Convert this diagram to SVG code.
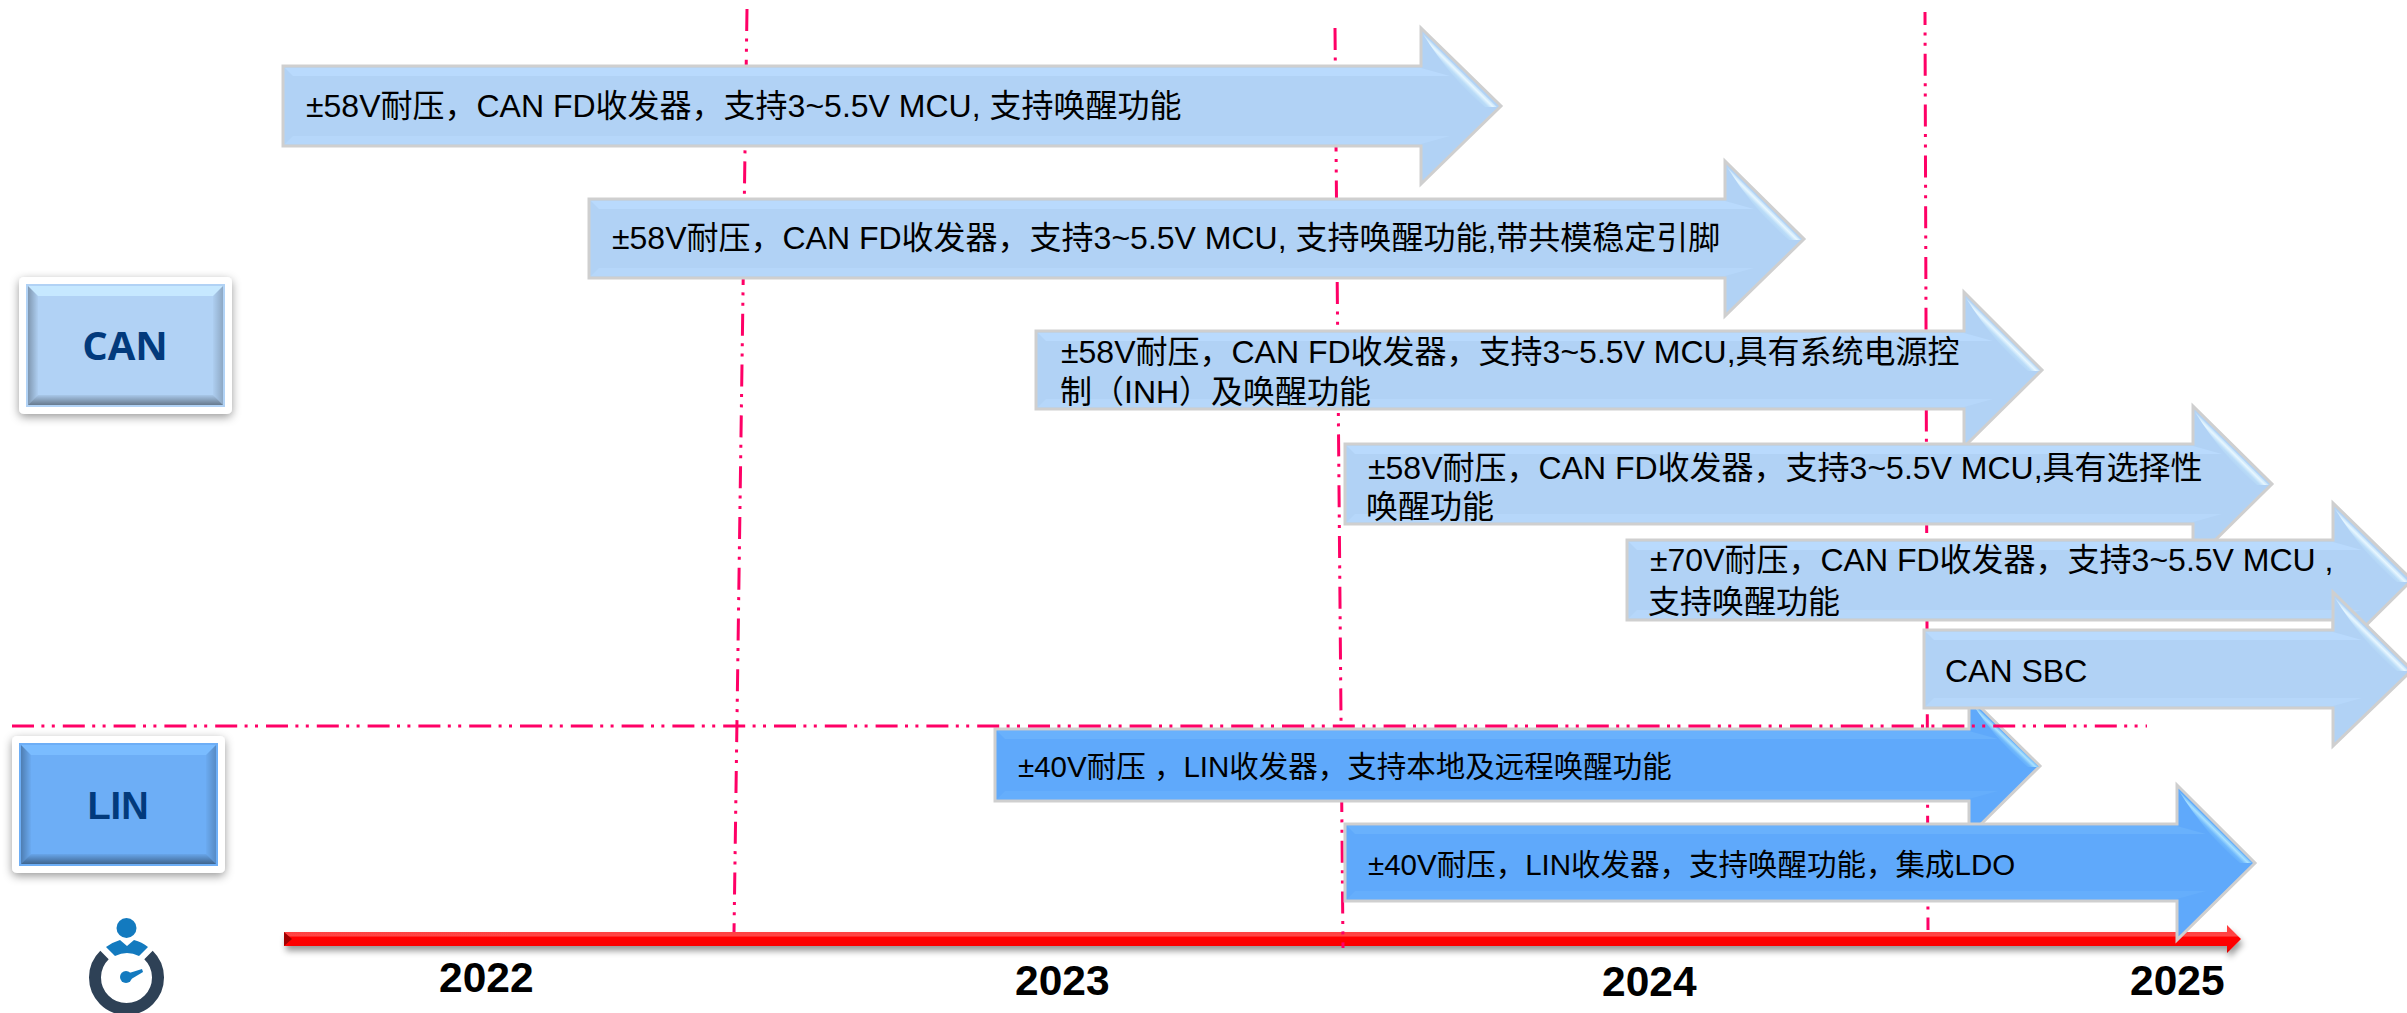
<svg xmlns="http://www.w3.org/2000/svg" width="2407" height="1013" viewBox="0 0 2407 1013">
<style>
.arrL{fill:#B1D2F5;stroke:#CFCFCF;stroke-width:3}
.arrD{fill:#5FA9FB;stroke:#CFCFCF;stroke-width:3}
.bandL{fill:#B9DAFD}
.bandD{fill:#69B1FC}
.lowL{fill:#B6D7FA}
.lowD{fill:#65AEFC}
.t{font-family:"Liberation Sans","Noto Sans CJK SC",Arial,sans-serif;font-size:32px;fill:#000}
.s{font-size:29.500px}
.y{font-family:"Liberation Sans",Arial,sans-serif;font-size:42.500px;font-weight:700;fill:#000}
.dash{fill:none;stroke:#FF0066;stroke-width:3;stroke-dasharray:22 7.400 3 7.400 3 8}
.lab{font-size:40px;font-weight:700;fill:#023A7C;text-anchor:middle}
</style>
<defs>
<linearGradient id="hlL" x1="0.4" y1="0.6" x2="0.5" y2="0.5"><stop offset="0" stop-color="#B1D2F5"/><stop offset="0.4" stop-color="#BADCF8"/><stop offset="0.75" stop-color="#E8F7FF"/><stop offset="1" stop-color="#C4E2FA"/></linearGradient>
<linearGradient id="hlD" x1="0.4" y1="0.6" x2="0.5" y2="0.5"><stop offset="0" stop-color="#5FA9FB"/><stop offset="0.4" stop-color="#6FB8FC"/><stop offset="0.75" stop-color="#ABE2FF"/><stop offset="1" stop-color="#78C0FB"/></linearGradient>
<path id="hiL" fill="url(#hlL)" d="M2 6L76 79L64 79Q30 51 2 6Z"/>
<path id="hiD" fill="url(#hlD)" d="M2 6L70 71L59 71Q28 46 2 6Z"/>
<path id="hiD2" fill="url(#hlD)" d="M2 6L75 78L63 78Q30 51 2 6Z"/>
<linearGradient id="red" x1="0" y1="0" x2="0" y2="1"><stop offset="0" stop-color="#FF3A3A"/><stop offset="0.38" stop-color="#FF4545"/><stop offset="0.45" stop-color="#FF0000"/><stop offset="0.85" stop-color="#FA0000"/><stop offset="1" stop-color="#C80000"/></linearGradient>
<linearGradient id="gT" x1="0" y1="0" x2="0" y2="1"><stop offset="0" stop-color="#fff" stop-opacity="0.35"/><stop offset="1" stop-color="#fff" stop-opacity="0.05"/></linearGradient>
<linearGradient id="gB" x1="0" y1="1" x2="0" y2="0"><stop offset="0" stop-color="#000" stop-opacity="0.42"/><stop offset="1" stop-color="#000" stop-opacity="0.05"/></linearGradient>
<linearGradient id="gL" x1="0" y1="0" x2="1" y2="0"><stop offset="0" stop-color="#000" stop-opacity="0.28"/><stop offset="1" stop-color="#000" stop-opacity="0.02"/></linearGradient>
<linearGradient id="gR" x1="1" y1="0" x2="0" y2="0"><stop offset="0" stop-color="#000" stop-opacity="0.2"/><stop offset="1" stop-color="#000" stop-opacity="0.02"/></linearGradient>
<filter id="sh" x="-20%" y="-20%" width="140%" height="140%"><feDropShadow dx="0" dy="3" stdDeviation="5" flood-color="#000" flood-opacity="0.4"/></filter>
<filter id="shr" x="-2%" y="-100%" width="104%" height="400%"><feDropShadow dx="2" dy="5" stdDeviation="3" flood-color="#000" flood-opacity="0.4"/></filter>
</defs>
<rect width="2407" height="1013" fill="#fff"/>
<g id="timeline">
<polygon points="284,932 2227,932 2227,925 2241,939 2227,953 2227,946 284,946" fill="url(#red)" filter="url(#shr)"/>
<polygon points="284,932 292,939 284,946" fill="#A00000"/>
</g>
<g id="connectors">
<path class="dash" d="M747 9L734 932"/>
<path class="dash" d="M1335 28L1343 948"/>
<path class="dash" stroke-dashoffset="9" d="M1925 12L1928 930"/>
</g>
<g id="arrow-can-1">
<polygon class="arrL" points="283,66 1421,66 1421,28 1501,106 1421,184 1421,146 283,146"/>
<polygon class="lowL" points="285,144 1421,144 1450,136 293,136"/>
<polygon class="bandL" points="285,68 1421,68 1450,76 293,76"/>
<use href="#hiL" x="1421" y="28"/>
<text class="t" x="306" y="117">±58V耐压，CAN FD收发器，支持3~5.5V MCU, 支持唤醒功能</text>
</g>
<g id="arrow-can-2">
<polygon class="arrL" points="589,199 1725,199 1725,161 1804,239 1725,316 1725,278 589,278"/>
<polygon class="lowL" points="591,276 1725,276 1754,268 599,268"/>
<polygon class="bandL" points="591,201 1725,201 1754,209 599,209"/>
<use href="#hiL" x="1725" y="161"/>
<text class="t" x="612" y="249">±58V耐压，CAN FD收发器，支持3~5.5V MCU, 支持唤醒功能,带共模稳定引脚</text>
</g>
<g id="arrow-can-3">
<polygon class="arrL" points="1036,331 1964,331 1964,292 2042,370 1964,447 1964,409 1036,409"/>
<polygon class="lowL" points="1038,407 1964,407 1993,399 1046,399"/>
<polygon class="bandL" points="1038,333 1964,333 1993,341 1046,341"/>
<use href="#hiL" x="1964" y="292"/>
<text class="t" x="1061" y="363">±58V耐压，CAN FD收发器，支持3~5.5V MCU,具有系统电源控</text>
<text class="t" x="1060" y="403">制（INH）及唤醒功能</text>
</g>
<g id="arrow-can-4">
<polygon class="arrL" points="1345,444 2193,444 2193,406 2272,484 2193,562 2193,524 1345,524"/>
<polygon class="lowL" points="1347,522 2193,522 2222,514 1355,514"/>
<polygon class="bandL" points="1347,446 2193,446 2222,454 1355,454"/>
<use href="#hiL" x="2193" y="406"/>
<text class="t" x="1368" y="479">±58V耐压，CAN FD收发器，支持3~5.5V MCU,具有选择性</text>
<text class="t" x="1366" y="518">唤醒功能</text>
</g>
<g id="arrow-can-5">
<polygon class="arrL" points="1627,540 2333,540 2333,503 2412,580 2333,658 2333,620 1627,620"/>
<polygon class="lowL" points="1629,618 2333,618 2362,610 1637,610"/>
<polygon class="bandL" points="1629,542 2333,542 2362,550 1637,550"/>
<use href="#hiL" x="2333" y="503"/>
<text class="t" x="1650" y="571">±70V耐压，CAN FD收发器，支持3~5.5V MCU ,</text>
<text class="t" x="1648" y="613">支持唤醒功能</text>
</g>
<g id="arrow-lin-1">
<polygon class="arrD" points="995,729 1969,729 1969,696 2040,766 1969,836 1969,801 995,801"/>
<polygon class="lowD" points="997,799 1969,799 1998,791 1005,791"/>
<polygon class="bandD" points="997,731 1969,731 1998,739 1005,739"/>
<use href="#hiD" x="1969" y="696"/>
<text class="t s" x="1018" y="777">±40V耐压 ，LIN收发器，支持本地及远程唤醒功能</text>
</g>
<g id="arrow-can-6">
<polygon class="arrL" points="1924,630 2333,630 2333,592 2412,670 2333,746 2333,708 1924,708"/>
<polygon class="lowL" points="1926,706 2333,706 2362,698 1934,698"/>
<polygon class="bandL" points="1926,632 2333,632 2362,640 1934,640"/>
<use href="#hiL" x="2333" y="592"/>
<text class="t" x="1945" y="682">CAN SBC</text>
</g>
<path id="divider" class="dash" d="M12 726H2147"/>
<g id="arrow-lin-2">
<polygon class="arrD" points="1345,824 2177,824 2177,785 2255,863 2177,940 2177,901 1345,901"/>
<polygon class="lowD" points="1347,899 2177,899 2206,891 1355,891"/>
<polygon class="bandD" points="1347,826 2177,826 2206,834 1355,834"/>
<use href="#hiD2" x="2177" y="785"/>
<text class="t s" x="1368" y="875">±40V耐压，LIN收发器，支持唤醒功能，集成LDO</text>
</g>
<g id="node-can">
<rect x="19" y="277" width="213" height="137" rx="5" fill="#fff" filter="url(#sh)"/>
<rect x="26" y="284" width="199" height="123" fill="#B1D2F5"/>
<polygon points="28,286 223,286 213,296 38,296" fill="#C6E8FF"/>
<polygon points="28,286 38,296 38,395 28,405" fill="url(#gL)"/>
<polygon points="223,286 213,296 213,395 223,405" fill="url(#gR)"/>
<polygon points="28,405 38,395 213,395 223,405" fill="url(#gB)"/>
<text class="lab" style="font-family:'Open Sans','Noto Sans',sans-serif" x="125" y="360">CAN</text>
</g>
<g id="node-lin">
<rect x="12" y="736" width="213" height="137" rx="5" fill="#fff" filter="url(#sh)"/>
<rect x="19" y="743" width="199" height="123" fill="#6DAEF6"/>
<polygon points="21,745 216,745 206,755 31,755" fill="#7ABCFF"/>
<polygon points="21,745 31,755 31,854 21,864" fill="url(#gL)"/>
<polygon points="216,745 206,755 206,854 216,864" fill="url(#gR)"/>
<polygon points="21,864 31,854 206,854 216,864" fill="url(#gB)"/>
<text class="lab" style="font-family:'Liberation Sans',Arial,sans-serif;font-size:38px" x="118" y="819">LIN</text>
</g>
<g id="years">
<text class="y" x="439" y="992">2022</text>
<text class="y" x="1015" y="995">2023</text>
<text class="y" x="1602" y="996">2024</text>
<text class="y" x="2130" y="995">2025</text>
</g>
<g id="icon">
<circle cx="126.500" cy="928" r="10" fill="#137ABF"/>
<path d="M106 947Q113 942 120 940L127 946L134 940Q142 942 148 947L139 956Q127 950 115 956Z" fill="#137ABF"/>
<path d="M104.500 955A31.500 31.500 0 1 0 148.500 955" fill="none" stroke="#2E4156" stroke-width="12"/>
<circle cx="126" cy="977" r="6" fill="#137ABF"/>
<path d="M126 974L142 969L143 972L128 981Z" fill="#137ABF"/>
</g>
</svg>
